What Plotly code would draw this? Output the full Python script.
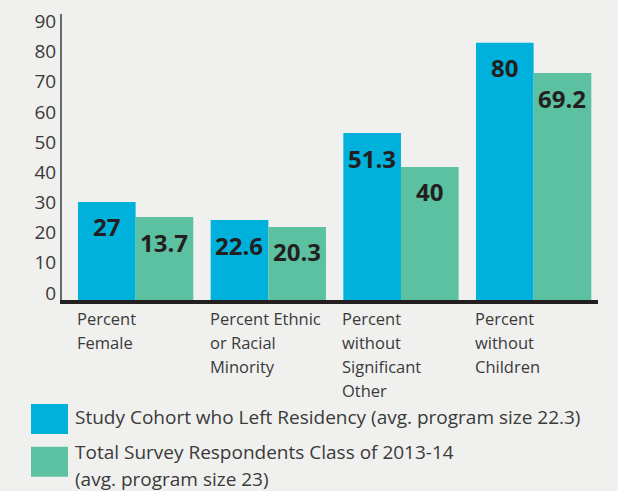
import plotly.graph_objects as go

# ---- data ----
categories = ["Percent Female", "Percent Ethnic or Racial Minority",
              "Percent without Significant Other", "Percent without Children"]
category_lines = [["Percent", "Female"],
                  ["Percent Ethnic", "or Racial", "Minority"],
                  ["Percent", "without", "Significant", "Other"],
                  ["Percent", "without", "Children"]]
series_names = ["Study Cohort who Left Residency (avg. program size 22.3)",
                "Total Survey Respondents Class of 2013-14"]
series_name_lines = [["Study Cohort who Left Residency (avg. program size 22.3)"],
                     ["Total Survey Respondents Class of 2013-14", "(avg. program size 23)"]]
# bar heights as drawn in the picture
cohort_heights = [32.5, 26.5, 55.3, 85.2]
survey_heights = [27.5, 24.2, 44.1, 75.2]
# printed labels
cohort_labels = ["27", "22.6", "51.3", "80"]
survey_labels = ["13.7", "20.3", "40", "69.2"]
y_ticks = [0, 10, 20, 30, 40, 50, 60, 70, 80, 90]

# ---- style ----
BG = "#f0f0ee"
BLUE = "#00b1db"
GREEN = "#5bc1a1"
DARK = "#231f20"
TXT = "#3a3a3a"
FONT = "Open Sans"

W, H = 618, 491
ML, MR, MT, MB = 62, 20, 14, 191
PW, PH = W - ML - MR, H - MT - MB


def px(x):
    return (x - ML) / PW


def py(y):
    return (H - MB - y) / PH


fig = go.Figure()
fig.add_trace(go.Bar(x=categories, y=cohort_heights, name=series_names[0],
                     marker=dict(color=BLUE, line=dict(width=0))))
fig.add_trace(go.Bar(x=categories, y=survey_heights, name=series_names[1],
                     marker=dict(color=GREEN, line=dict(width=0))))

annotations = []
half = PW / 4.04 * (1 - 0.131) / 4  # half bar width in px
for i, c in enumerate(categories):
    for heights, labels, sh in ((cohort_heights, cohort_labels, -half),
                                (survey_heights, survey_labels, half)):
        annotations.append(dict(x=c, y=heights[i], xref="x", yref="y",
                                text=labels[i], showarrow=False,
                                xshift=sh, yshift=-25, yanchor="middle",
                                font=dict(family=FONT, size=24, color=DARK, weight="bold")))
    for j, line in enumerate(category_lines[i]):
        annotations.append(dict(x=c, y=py(318 + 24.3 * j), xref="x", yref="paper",
                                text=line, showarrow=False, xanchor="left",
                                yanchor="middle", xshift=-2 * half - 3,
                                font=dict(family=FONT, size=16.5, color=TXT)))

legend_tops = [404, 446.7]
legend_line_y = [[417], [452, 479]]
colors = [BLUE, GREEN]
shapes = []
for k in range(2):
    shapes.append(dict(type="rect", xref="paper", yref="paper",
                       x0=px(31), x1=px(68), y0=py(legend_tops[k]), y1=py(legend_tops[k] + 30),
                       fillcolor=colors[k], line=dict(width=0)))
    for j, line in enumerate(series_name_lines[k]):
        annotations.append(dict(x=px(73), y=py(legend_line_y[k][j]), xref="paper", yref="paper",
                                text=line, showarrow=False, xanchor="left", yanchor="middle",
                                font=dict(family=FONT, size=19, color=TXT)))

fig.update_layout(
    width=W, height=H,
    margin=dict(l=ML, r=MR, t=MT, b=MB),
    paper_bgcolor=BG, plot_bgcolor=BG,
    barmode="group", bargap=0.131, bargroupgap=0,
    showlegend=False,
    annotations=annotations, shapes=shapes,
    xaxis=dict(type="category", range=[-0.555, 3.485], showticklabels=False,
               showgrid=False, zeroline=False, showline=True, linecolor=DARK,
               linewidth=4, ticks="", automargin=False),
    yaxis=dict(range=[0, PH / 3.018], tickvals=y_ticks, showgrid=False,
               zeroline=False, showline=True, linecolor="#6a6a6a", linewidth=2,
               ticks="", ticklabelshift=-7, ticklabelstandoff=0, automargin=False,
               tickfont=dict(family=FONT, size=19, color=TXT)),
)

fig.write_html("out.html")
